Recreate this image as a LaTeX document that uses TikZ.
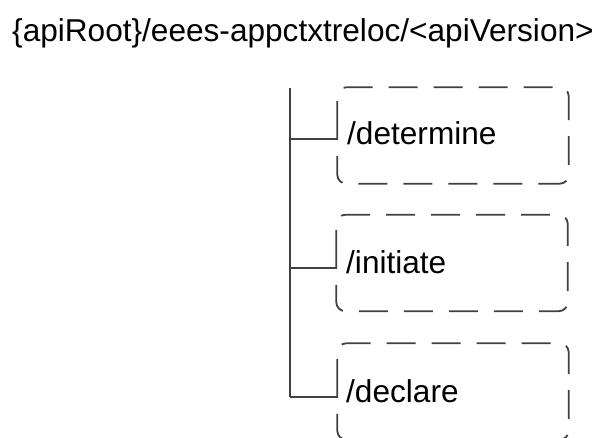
\documentclass[tikz,border=0pt]{standalone}
\usepackage{fontspec}
\setmainfont{Liberation Sans}
\definecolor{linegray}{HTML}{404040}
\tikzset{
  branchbox/.style={minimum width=231pt, minimum height=96pt, inner sep=0pt},
  boxline/.style={draw=linegray, line width=1.8pt, rounded corners=9pt,
    dash pattern=on 29pt off 16pt},
  lbl/.style={font=\fontsize{31.6}{36}\selectfont, inner sep=0pt, anchor=base west},
  conn/.style={draw=linegray, line width=1.8pt}
}
\begin{document}
\begin{tikzpicture}[x=1pt,y=-1pt]
\useasboundingbox (0,0) rectangle (605,438);
\clip (0,0) rectangle (605,438);
\node[lbl] (title) at (12,42) {\{apiRoot\}/eees-appctxtreloc/<apiVersion>};
\node[branchbox] (b1) at (453,135.5) {};
\node[branchbox] (b2) at (452,263) {};
\node[branchbox] (b3) at (453,391.5) {};
\node[lbl] (l1) at (347,145) {/determine};
\node[lbl] (l2) at (346,273.5) {/initiate};
\node[lbl] (l3) at (346,402.5) {/declare};
\coordinate (top) at (290,88);
\coordinate (j1) at (290,139);
\coordinate (j2) at (290,268);
\coordinate (j3) at (290,397);
\foreach \b/\j in {b1/j1,b2/j2,b3/j3}{
  \draw[boxline] (\j -| \b.west) -- (\b.north west) -- (\b.north east)
    -- (\b.south east) -- (\b.south west) -- cycle;
}
\draw[conn] (top) -- (j3);
\draw[conn] (j1) -- (j1 -| b1.west);
\draw[conn] (j2) -- (j2 -| b2.west);
\draw[conn] (j3) -- (j3 -| b3.west);
\end{tikzpicture}
\end{document}
